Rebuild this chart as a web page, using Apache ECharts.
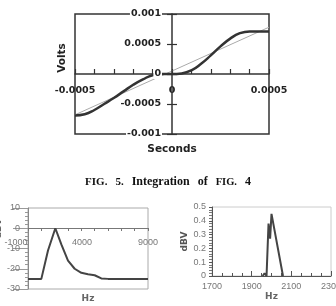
<!DOCTYPE html>
<html><head><meta charset="utf-8">
<script src="https://cdn.jsdelivr.net/npm/echarts@6/dist/echarts.min.js"></script>
<style>html,body{margin:0;padding:0;background:#fff}#c{width:336px;height:306px}</style>
</head><body><div id="c"></div>
<script>
// Top chart (FIG. 5): integrated signal
const topSeconds = [-0.0005,-0.00045,-0.0004,-0.00035,-0.0003,-0.00025,-0.0002,-0.00015,-0.0001,-0.00005,0,0.00005,0.0001,0.00015,0.0002,0.00025,0.0003,0.00035,0.0004,0.00045,0.0005];
const topVolts   = [-0.00069,-0.00067,-0.0006,-0.0005,-0.0004,-0.00029,-0.00018,-0.00009,-0.00002,0,0,0.00001,0.00006,0.00017,0.00031,0.00046,0.00059,0.00068,0.00071,0.00071,0.00071];
const refSeconds = [-0.0005, 0.0005];
const refVolts   = [-0.00068, 0.00078];
// Bottom-left spectrum
const blHz  = [0,1000,1500,2050,2500,3000,3500,4000,4500,5000,5500,6000,9000];
const blDbv = [-25,-25,-11,0,-8,-16,-20,-22,-22.7,-23.2,-24.8,-25,-25];
const blLabelTicks = [-1000, 9000];
// Bottom-right spectrum
const brHz  = [1955,1965,1975,1985,1993,2000,2058];
const brDbv = [0,0.02,0,0.38,0.27,0.45,0];
const captionWords = ['FIG.','5.','Integration','of','FIG.','4'];

const zip = (a,b) => a.map((v,i)=>[v,b[i]]);
const plain = v => String(v);
const bold = {fontFamily:'DejaVu Sans', fontWeight:'bold', fontSize:9.5, color:'#222', formatter:plain};
const grayTxt = {fontFamily:'Liberation Sans', fontSize:9, color:'#777', formatter:plain};
const G = {outerBoundsMode:'none', containLabel:false};

const chart = echarts.init(document.getElementById('c'), null, {renderer:'canvas'});
chart.setOption({
  animation:false,
  title:{
    text: '{b|'+captionWords[0]+'}{s|}{b|'+captionWords[1]+'}{s|}{r|'+captionWords[2]+'}{s|}{r|'+captionWords[3]+'}{s|}{c|'+captionWords[4]+'}{s|}{r|'+captionWords[5]+'}',
    left:'center', top:168,
    textStyle:{rich:{
      b:{fontFamily:'Liberation Serif', fontWeight:'bold', fontSize:11, color:'#111'},
      c:{fontFamily:'Liberation Serif', fontSize:10.5, color:'#111'},
      r:{fontFamily:'Liberation Serif', fontSize:12, color:'#111'},
      s:{width:8}
    }}
  },
  grid:[
    Object.assign({left:75,right:67,top:14,bottom:172,show:true,borderColor:'#333',borderWidth:1.5},G),
    Object.assign({left:75,right:67,top:14,bottom:172,show:false},G),
    Object.assign({left:28,right:188,top:208,bottom:17,show:true,borderColor:'#aaa',borderWidth:1},G),
    Object.assign({left:16,right:188,top:208,bottom:17,show:false},G),
    Object.assign({left:212,right:5,top:207,bottom:30,show:true,borderColor:'#ccc',borderWidth:1},G)
  ],
  xAxis:[
    {gridIndex:0,type:'value',min:-0.0005,max:0.0005,interval:0.0005,position:'bottom',offset:-60,
     axisLine:{onZero:false,lineStyle:{color:'#333',width:1.5}},
     axisTick:{show:true,inside:true,length:5,lineStyle:{color:'#333',width:1.2}},
     minorTick:{show:true,splitNumber:5,length:5,lineStyle:{color:'#333',width:1.2}},
     splitLine:{show:false},
     axisLabel:Object.assign({margin:12},bold),
     name:'Seconds',nameLocation:'middle',nameGap:70,
     nameTextStyle:{fontFamily:'DejaVu Sans',fontWeight:'bold',fontSize:10.5,color:'#222'}},
    {gridIndex:1,type:'value',min:-0.0005,max:0.0005,show:false},
    {gridIndex:2,type:'value',min:0,max:9000,interval:1000,position:'bottom',offset:-61,
     axisLine:{onZero:false,lineStyle:{color:'#777',width:1}},
     axisTick:{show:true,length:3,lineStyle:{color:'#777'}},
     axisLabel:{show:false},splitLine:{show:false},
     name:'Hz',nameLocation:'middle',nameGap:66,
     nameTextStyle:{fontFamily:'DejaVu Sans',fontWeight:'bold',fontSize:9,color:'#666'}},
    {gridIndex:3,type:'value',min:blLabelTicks[0],max:blLabelTicks[1],interval:5000,position:'bottom',offset:-61,
     axisLine:{show:false,onZero:false},axisTick:{show:false},splitLine:{show:false},
     axisLabel:Object.assign({margin:10},grayTxt)},
    {gridIndex:4,type:'value',min:1700,max:2300,interval:200,
     axisLine:{onZero:false,lineStyle:{color:'#555',width:1}},
     axisTick:{show:true,inside:true,length:5,lineStyle:{color:'#555'}},
     minorTick:{show:true,splitNumber:4,length:3,lineStyle:{color:'#555'}},
     splitLine:{show:false},
     axisLabel:Object.assign({margin:6},grayTxt),
     name:'Hz',nameLocation:'middle',nameGap:11,
     nameTextStyle:{fontFamily:'DejaVu Sans',fontWeight:'bold',fontSize:9,color:'#666'}}
  ],
  yAxis:[
    {gridIndex:0,type:'value',min:-0.001,max:0.001,interval:0.0005,z:5,position:'left',offset:-97,
     axisLine:{onZero:false,lineStyle:{color:'#333',width:1.5}},
     axisTick:{show:true,length:5,lineStyle:{color:'#333',width:1.2}},
     splitLine:{show:false},
     axisLabel:Object.assign({margin:10,backgroundColor:'#fff',padding:[0,1]},bold),
     name:'Volts',nameLocation:'middle',nameGap:104,
     nameTextStyle:{fontFamily:'DejaVu Sans',fontWeight:'bold',fontSize:10.5,color:'#222',padding:[0,0,0,32]}},
    {gridIndex:1,type:'value',min:-0.001,max:0.001,interval:0.0005,position:'left',offset:-97,
     axisLine:{show:false,onZero:false},axisLabel:{show:false},splitLine:{show:false},
     axisTick:{show:true,inside:true,length:5,lineStyle:{color:'#333',width:1.2}}},
    {gridIndex:2,type:'value',min:-30,max:10,interval:10,
     axisLine:{onZero:false,lineStyle:{color:'#888'}},
     axisTick:{show:true,length:15,lineStyle:{color:'#999'}},
     minorTick:{show:true,splitNumber:5,length:3,lineStyle:{color:'#999'}},
     splitLine:{show:false},
     axisLabel:Object.assign({margin:8},grayTxt),
     name:'dBV',nameLocation:'middle',nameGap:22,
     nameTextStyle:{fontFamily:'DejaVu Sans',fontWeight:'bold',fontSize:9,color:'#666',padding:[0,0,0,40]}},
    {gridIndex:3,type:'value',min:-30,max:10,show:false},
    {gridIndex:4,type:'value',min:0,max:0.5,interval:0.1,
     axisLine:{show:true,onZero:false,lineStyle:{color:'#555'}},
     axisTick:{show:true,length:3,lineStyle:{color:'#555'}},
     minorTick:{show:true,splitNumber:5,length:3,lineStyle:{color:'#777'}},
     splitLine:{show:false},
     axisLabel:Object.assign({margin:6},grayTxt),
     name:'dBV',nameLocation:'middle',nameGap:21,
     nameTextStyle:{fontFamily:'DejaVu Sans',fontWeight:'bold',fontSize:9,color:'#555'}}
  ],
  series:[
    {type:'line',xAxisIndex:0,yAxisIndex:0,data:zip(refSeconds,refVolts),symbol:'none',
     lineStyle:{color:'#aaa',width:1},z:2},
    {type:'line',xAxisIndex:0,yAxisIndex:0,data:zip(topSeconds,topVolts),symbol:'none',smooth:true,
     lineStyle:{color:'#333',width:2.5},z:3},
    {type:'line',xAxisIndex:2,yAxisIndex:2,data:zip(blHz,blDbv),symbol:'none',
     lineStyle:{color:'#444',width:2}},
    {type:'line',xAxisIndex:4,yAxisIndex:4,data:zip(brHz,brDbv),symbol:'none',
     lineStyle:{color:'#444',width:2}}
  ]
});
</script></body></html>
